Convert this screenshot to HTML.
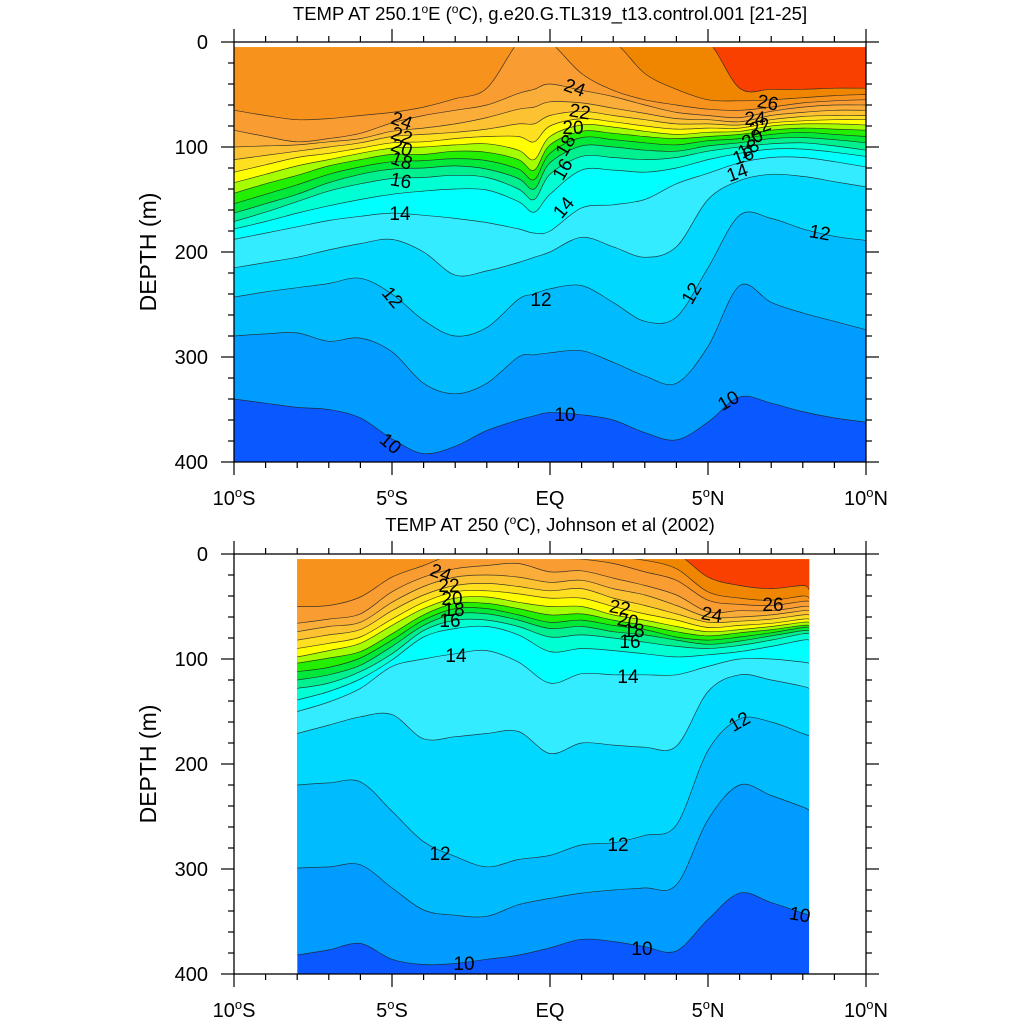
<!DOCTYPE html>
<html><head><meta charset="utf-8"><title>TEMP sections</title>
<style>
html,body{margin:0;padding:0;background:#fff;}
svg{display:block;font-family:"Liberation Sans",Arial,sans-serif;}
</style></head>
<body>
<svg id="chart" width="1024" height="1024" viewBox="0 0 1024 1024" xmlns="http://www.w3.org/2000/svg">
  <rect x="0" y="0" width="1024" height="1024" fill="#fff"/>
  <text x="550" y="20" text-anchor="middle" font-size="18.5">TEMP AT 250.1<tspan font-size="12" dy="-7">o</tspan><tspan dy="7">E (</tspan><tspan font-size="12" dy="-7">o</tspan><tspan dy="7">C), g.e20.G.TL319_t13.control.001 [21-25]</tspan></text>
  <text x="550" y="531" text-anchor="middle" font-size="18.5">TEMP AT 250 (<tspan font-size="12" dy="-7">o</tspan><tspan dy="7">C), Johnson et al (2002)</tspan></text>
  <g id="topPanel"></g>
  <g id="botPanel"></g>
</svg>
<script>
// ---------- data: top panel (model) ----------
const topLats = [-10,-9,-8,-7,-6,-5,-4,-3,-2,-1,-0.5,0,1,2,3,4,5,6,7,8,9,10];
const top10 = [340,344,348,350,358,378,392,385,370,360,356,353,355,360,372,379,362,338,344,352,358,362];
const top11 = [280,278,277,285,282,295,325,335,325,300,298,296,294,305,318,325,290,232,248,258,266,274];
const top12 = [243,238,234,230,225,240,265,280,272,245,240,235,232,248,266,262,215,165,168,178,185,189];
const top13 = [215,210,205,198,192,188,200,222,218,210,205,200,186,195,205,195,150,132,126,128,133,138];
const top14 = [188,182,176,170,166,163,165,168,172,178,182,180,158,155,150,135,125,115,110,110,114,119];
const top15 = [178,171,163,156,150,145,142,140,141,152,162,145,122,122,124,120,112,106,102,102,105,109];
const top16 = [171,162,152,142,135,130,129,127,129,140,150,126,109,110,112,110,104,100,97,96,99,103];
const top17 = [163,154,145,134,126,121,120,118,121,130,140,115,99,100,103,104,99,96,92,91,93,96];
const top18 = [154,145,136,126,119,114,113,111,113,121,131,106,91,93,96,98,94,92,88,86,88,90];
const top19 = [144,135,127,118,112,107,107,104,105,112,122,98,85,87,90,92,90,88,84,82,83,84];
const top20 = [134,126,118,112,106,101,100,98,97,103,112,90,79,81,85,88,86,85,80,78,78,79];
const top21 = [124,117,110,106,101,96,95,92,90,90,95,80,73,76,80,83,82,82,77,75,74,74];
const top22 = [112,108,104,100,96,90,88,86,83,78,78,70,66,70,74,78,78,79,74,71,70,70];
const top23 = [100,99,98,95,92,85,82,78,72,64,62,57,58,63,68,73,74,76,70,67,65,65];
const top24 = [84,90,95,92,87,77,70,65,60,49,45,40,46,52,60,67,70,72,66,62,60,60];
const top25 = [65,70,74,73,70,67,62,54,44,0,0,0,30,46,55,60,64,65,62,58,56,55];
const top26 = [0,0,0,0,0,0,0,0,0,0,0,0,0,0,30,45,55,56,55,53,51,50];
const top27 = [0,0,0,0,0,0,0,0,0,0,0,0,0,0,0,0,0,44,45,45,44,44];

// ---------- data: bottom panel (Johnson et al) ----------
const botLats = [-8,-7,-6,-5,-4,-3,-2,-1,0,1,2,3,4,5,6,7,8,8.2];
const bot10 = [382,377,371,386,391,390,386,382,375,367,369,374,378,348,323,332,342,344];
const bot11 = [299,298,296,318,339,344,345,334,328,323,320,318,315,253,220,230,241,244];
const bot12 = [220,218,217,245,274,288,298,291,287,277,275,268,258,187,157,160,171,173];
const bot13 = [171,163,155,153,176,174,171,169,190,180,182,184,183,131,115,120,126,128];
const bot14 = [150,141,128,107,100,95,92,103,123,114,115,115,115,107,100,100,103,104];
const bot15 = [139,131,119,101,79,71,69,77,93,90,92,95,98,96,93,88,82,82];
const bot16 = [128,123,112,95,73,63,63,69,79,77,80,84,88,90,87,82,76,76];
const bot17 = [120,115,106,88,68,57,57,63,71,69,74,77,82,86,83,78,73,73];
const bot18 = [112,108,99,82,63,52,52,58,65,63,68,72,79,82,79,75,70,70];
const bot19 = [104,99,93,76,58,47,47,52,58,57,63,68,74,78,75,72,68,68];
const bot20 = [98,92,85,68,52,42,41,46,50,50,58,63,69,74,72,69,65,65];
const bot21 = [90,85,79,62,46,36,35,38,42,42,50,57,63,70,68,66,62,62];
const bot22 = [82,77,72,54,39,30,28,31,35,33,42,49,57,65,64,62,58,58];
const bot23 = [74,69,65,46,31,22,20,22,27,25,33,39,49,60,60,58,54,54];
const bot24 = [66,62,57,36,22,14,11,9,17,16,23,30,39,55,54,54,50,50];
const bot25 = [50,49,41,22,11,0,0,0,4,5,9,17,25,44,48,49,45,45];
const bot26 = [0,0,0,0,0,0,0,0,0,0,3,6,14,36,42,44,40,42];
const bot27 = [0,0,0,0,0,0,0,0,0,0,0,0,0,22,30,33,30,34];

const isoLevels = [10,11,12,13,14,15,16,17,18,19,20,21,22,23,24,25,26,27];
const xTickVals = [-10,-5,0,5,10];
const xTickLabels = ["10°S","5°S","EQ","5°N","10°N"];
const yTickVals = [0,100,200,300,400];

const bandColor = {9:"#0a58ff",10:"#009cff",11:"#00bcff",12:"#00d8ff",13:"#34ecff",14:"#00ffff",
  15:"#00ffd2",16:"#00f090",17:"#00e83a",18:"#22f000",19:"#a6ff00",20:"#ffff00",21:"#ffe020",
  22:"#fdc232",23:"#fbad3a",24:"#f99d32",25:"#f7921c",26:"#f08600",27:"#fa4000"};

const NS = "http://www.w3.org/2000/svg";
function mk(tag, attrs, parent){
  const e = document.createElementNS(NS, tag);
  for (const k in attrs) e.setAttribute(k, attrs[k]);
  if (parent) parent.appendChild(e);
  return e;
}

function curvePath(pts){
  let d = "M"+pts[0][0].toFixed(1)+","+pts[0][1].toFixed(1);
  for (let i=0;i<pts.length-1;i++){
    const p0 = pts[Math.max(0,i-1)], p1 = pts[i], p2 = pts[i+1], p3 = pts[Math.min(pts.length-1,i+2)];
    const c1x = p1[0]+(p2[0]-p0[0])/6, c1y = p1[1]+(p2[1]-p0[1])/6;
    const c2x = p2[0]-(p3[0]-p1[0])/6, c2y = p2[1]-(p3[1]-p1[1])/6;
    d += " C"+c1x.toFixed(1)+","+c1y.toFixed(1)+" "+c2x.toFixed(1)+","+c2y.toFixed(1)+" "+p2[0].toFixed(1)+","+p2[1].toFixed(1);
  }
  return d;
}

function drawPanel(g, cfg){
  const X0=234, X1=866;
  const xs = lat => X0 + (lat+10)/20*(X1-X0);
  const ys = dep => cfg.y0 + dep/400*(cfg.y1-cfg.y0);
  const clipId = cfg.id+"-clip";
  const defs = mk("defs",{},g);
  const cp = mk("clipPath",{id:clipId},defs);
  const dx0 = xs(cfg.lats[0]), dx1 = xs(cfg.lats[cfg.lats.length-1]);
  const dy0 = ys(5), dy1 = cfg.y1;
  mk("rect",{x:dx0,y:dy0,width:dx1-dx0,height:dy1-dy0},cp);
  const fills = mk("g",{"clip-path":"url(#"+clipId+")"},g);
  
  
  const base = mk("rect",{x:dx0,y:dy0,width:dx1-dx0,height:dy1-dy0,fill:bandColor[9]},fills);
  
  
  const curves = [];
  cfg.isos.forEach((arr, k) => {
    const T = isoLevels[k];
    const pts = cfg.lats.map((lat,i)=>[xs(lat), ys(arr[i])]);
    const cd = curvePath(pts);
    curves.push(cd);
    const d = "M"+(dx0-2)+","+(dy0-60)+" L"+(dx0-2)+","+pts[0][1].toFixed(1)+" L"+pts[0][0].toFixed(1)+","+pts[0][1].toFixed(1)+" "+cd.slice(cd.indexOf("C"))+" L"+(dx1+2)+","+pts[pts.length-1][1].toFixed(1)+" L"+(dx1+2)+","+(dy0-60)+" Z";
    const band = mk("path",{d:d,fill:bandColor[T],stroke:"none"},fills);
    
    
  });
  curves.forEach((cd,k)=>{
    const ln = mk("path",{d:cd,fill:"none",stroke:"#222","stroke-width":0.7,"stroke-opacity":0.85},fills);
    
    
  });
  const fr = mk("rect",{x:X0,y:cfg.y0,width:X1-X0,height:cfg.y1-cfg.y0,fill:"none",stroke:"#000","stroke-width":1.3},g);
  
  
  const ax = mk("g",{stroke:"#000","stroke-width":1.2},g);
  
  
  for (let lat=-10; lat<=10; lat++){
    const L = (lat%5===0)?13:6;
    mk("line",{x1:xs(lat),x2:xs(lat),y1:cfg.y1,y2:cfg.y1+L},ax);
    mk("line",{x1:xs(lat),x2:xs(lat),y1:cfg.y0,y2:cfg.y0-L},ax);
  }
  for (let dep=0; dep<=400; dep+=20){
    const L = (dep%100===0)?13:6;
    mk("line",{x1:X0,x2:X0-L,y1:ys(dep),y2:ys(dep)},ax);
    mk("line",{x1:X1,x2:X1+L,y1:ys(dep),y2:ys(dep)},ax);
  }
  xTickVals.forEach((v,i)=>{
    const lab = xTickLabels[i];
    const t = mk("text",{x:xs(v),y:cfg.y1+43,"text-anchor":"middle","font-size":20},g);
    if (lab.indexOf("°")>=0){
      const parts = lab.split("°");
      t.appendChild(document.createTextNode(parts[0]));
      const s = mk("tspan",{"font-size":13,dy:-8},t); s.textContent="o";
      const r = mk("tspan",{dy:8},t); r.textContent=parts[1];
    } else t.textContent = lab;
    
    
  });
  yTickVals.forEach(v=>{
    const t = mk("text",{x:208,y:ys(v)+7,"text-anchor":"end","font-size":20},g);
    t.textContent = String(v);
    
    
  });
  const yt = mk("text",{x:0,y:0,"text-anchor":"middle","font-size":23,transform:"translate(156,"+((cfg.y0+cfg.y1)/2)+") rotate(-90)"},g);
  yt.textContent = "DEPTH (m)";
  
  
  const lg = mk("g",{"font-size":19,"text-anchor":"middle"},g);
  
  
  cfg.labels.forEach(l=>{
    const t = mk("text",{x:l[0],y:l[1]+7,transform:"rotate("+(l[3]||0)+" "+l[0]+" "+l[1]+")"},lg);
    t.textContent = l[2];
    
    
  });
}

drawPanel(document.getElementById("topPanel"), {
  id:"top", y0:42, y1:462, lats:topLats,
  isos:[top10,top11,top12,top13,top14,top15,top16,top17,top18,top19,top20,top21,top22,top23,top24,top25,top26,top27],
  labels:[[402,120,"24",20],[402,135,"22",20],[402,147,"20",20],[402,160,"18",20],[401,180,"16",10],[400,213,"14",0],[393,297,"12",50],[391,443,"10",40],
          [575,87,"24",20],[580,111,"22",10],[573,127,"20",0],[565,145,"18",-60],[562,169,"16",-60],[563,207,"14",-50],[541,299,"12",0],[565,414,"10",0],
          [768,102,"26",10],[755,118,"24",0],[760,126,"22",-20],[752,138,"20",-30],[748,148,"18",-30],[743,155,"16",-20],[737,172,"14",-20],[691,293,"12",-60],[820,232,"12",10],[728,400,"10",-30]]
});
drawPanel(document.getElementById("botPanel"), {
  id:"bottom", y0:554, y1:974, lats:botLats,
  isos:[bot10,bot11,bot12,bot13,bot14,bot15,bot16,bot17,bot18,bot19,bot20,bot21,bot22,bot23,bot24,bot25,bot26,bot27],
  labels:[[441,572,"24",20],[449,585,"22",0],[452,598,"20",0],[454,609,"18",0],[450,620,"16",0],[456,655,"14",0],[440,853,"12",0],[464,963,"10",0],
          [620,607,"22",10],[628,620,"20",10],[634,630,"18",0],[630,641,"16",0],[712,614,"24",10],[773,604,"26",0],[628,676,"14",0],[739,721,"12",-30],[618,844,"12",0],[642,948,"10",0],[800,914,"10",10]]
});
</script>
</body></html>
